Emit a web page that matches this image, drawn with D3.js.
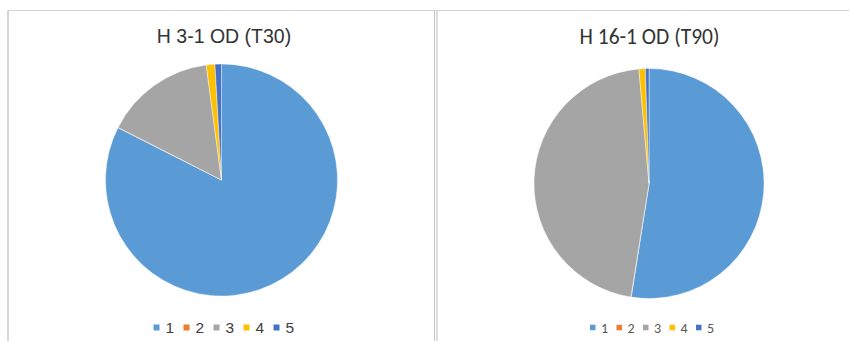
<!DOCTYPE html>
<html><head><meta charset="utf-8">
<script src="https://cdn.jsdelivr.net/npm/d3@7"></script>
<style>body{margin:0;background:#fff}svg{display:block}</style>
</head><body>
<svg id="c" width="850" height="341"></svg>
<script>
const categories = ["1","2","3","4","5"];
const colors = ["#5B9BD5","#ED7D31","#A5A5A5","#FFC000","#4472C4"];
const titleLeft = "H 3-1 OD (T30)";
const valuesLeft = [82.4, 0.05, 15.4, 1.2, 0.9];
const titleRight = "H 16-1 OD (T90)";
const valuesRight = [52.5, 0.05, 46.1, 0.9, 0.5];

const svg = d3.select("#c");
// panel borders
svg.append("line").attr("x1",8).attr("x2",8).attr("y1",10.5).attr("y2",341).attr("stroke","#c8c8c8").attr("stroke-width",1.5);
svg.append("line").attr("x1",8).attr("x2",849).attr("y1",10.5).attr("y2",10.5).attr("stroke","#d4d4d4").attr("stroke-width",1.2);
svg.append("line").attr("x1",434.5).attr("x2",434.5).attr("y1",10.5).attr("y2",341).attr("stroke","#c8c8c8").attr("stroke-width",1.2);
svg.append("line").attr("x1",437).attr("x2",437).attr("y1",10.5).attr("y2",341).attr("stroke","#c8c8c8").attr("stroke-width",1.2);

const color = d3.scaleOrdinal().domain(categories).range(colors);
const pie = d3.pie().sort(null).value(d => d.v);

function drawPanel(opts){
  const g = svg.append("g");
  g.append("text").attr("x",opts.titleX).attr("y",opts.titleY).attr("text-anchor","middle")
    .style("font-family",opts.font).attr("font-size",opts.titleSize).attr("fill","#333").text(opts.title);
  const arc = d3.arc().innerRadius(0).outerRadius(opts.r);
  const data = categories.map((c,i)=>({c, v: opts.values[i]}));
  g.append("g").attr("transform",`translate(${opts.cx},${opts.cy})`)
    .selectAll("path").data(pie(data)).join("path")
    .attr("d",arc).attr("fill",d=>color(d.data.c))
    .attr("stroke","#fff").attr("stroke-width",0.4);
  const lg = g.append("g").attr("transform",`translate(${opts.legX},${opts.legY})`);
  const items = lg.selectAll("g").data(categories).join("g")
    .attr("transform",(d,i)=>`translate(${i*opts.legStep},0)`);
  items.append("rect").attr("x",0).attr("y",-opts.sq/2).attr("width",opts.sq).attr("height",opts.sq).attr("fill",d=>color(d));
  items.append("text").attr("x",opts.sq+opts.gap).attr("y",0).attr("dy","0.36em")
    .style("font-family",opts.font).attr("font-size",opts.legSize).attr("fill",opts.legColor).text(d=>d);
}

drawPanel({title:titleLeft, values:valuesLeft, cx:221.5, cy:180, r:116, titleX:224, titleY:42.5, titleSize:19.5,
  font:"Arial, sans-serif", legX:153.5, legY:327.5, legStep:30, sq:6, gap:6, legSize:15.5, legColor:"#404040"});
drawPanel({title:titleRight, values:valuesRight, cx:649, cy:183.5, r:115, titleX:649.5, titleY:43.5, titleSize:21.5,
  font:"Carlito, Calibri, sans-serif", legX:590, legY:327.5, legStep:26.5, sq:5.5, gap:5.5, legSize:14, legColor:"#595959"});
</script>
</body></html>
